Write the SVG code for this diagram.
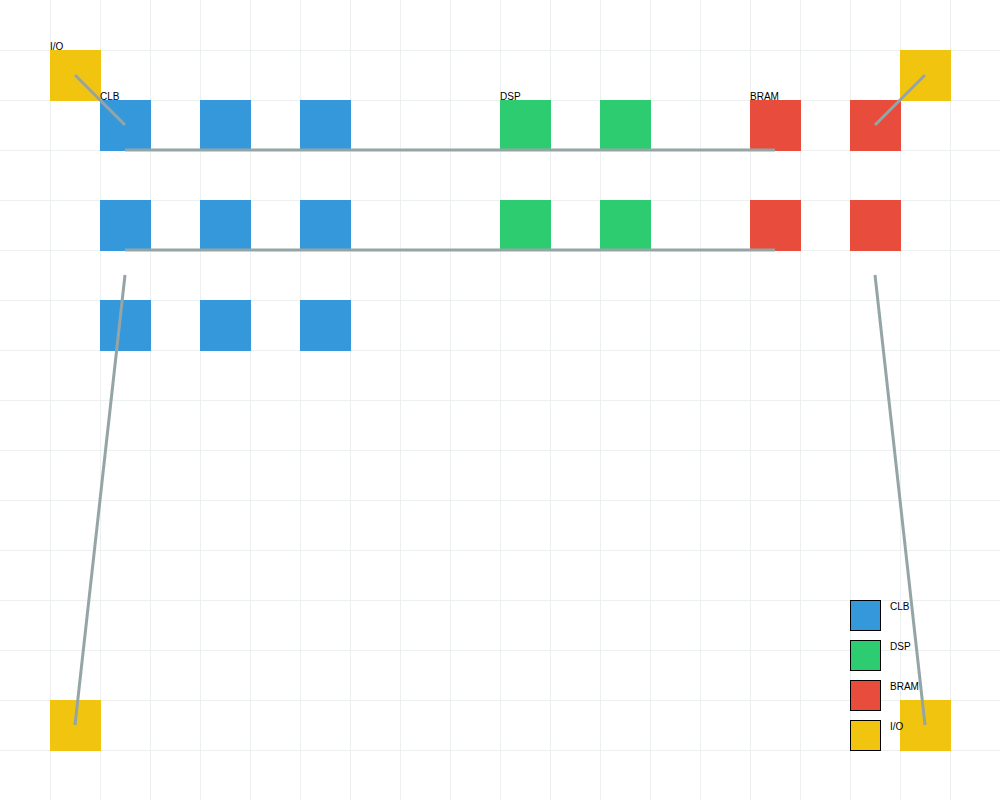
<svg xmlns="http://www.w3.org/2000/svg" width="1000" height="800" viewBox="0 0 1000 800">
<defs>
<style>
.grid line{stroke:#ecf0f1;stroke-width:1}
.clb{fill:#3498db}
.dsp{fill:#2ecc71}
.bram{fill:#e74c3c}
.io{fill:#f1c40f}
.blk{width:51px;height:51px}
.conn line{stroke:#95a5a6;stroke-width:3}
text{font-family:"Liberation Sans",Arial,sans-serif;font-size:10px;fill:#000}
.leg rect{stroke:#000;stroke-width:1}
</style>
</defs>
<rect width="1000" height="800" fill="#fff"/>
<g class="grid">
<line x1="50.5" y1="0" x2="50.5" y2="800"/><line x1="100.5" y1="0" x2="100.5" y2="800"/><line x1="150.5" y1="0" x2="150.5" y2="800"/><line x1="200.5" y1="0" x2="200.5" y2="800"/><line x1="250.5" y1="0" x2="250.5" y2="800"/><line x1="300.5" y1="0" x2="300.5" y2="800"/><line x1="350.5" y1="0" x2="350.5" y2="800"/><line x1="400.5" y1="0" x2="400.5" y2="800"/><line x1="450.5" y1="0" x2="450.5" y2="800"/><line x1="500.5" y1="0" x2="500.5" y2="800"/><line x1="550.5" y1="0" x2="550.5" y2="800"/><line x1="600.5" y1="0" x2="600.5" y2="800"/><line x1="650.5" y1="0" x2="650.5" y2="800"/><line x1="700.5" y1="0" x2="700.5" y2="800"/><line x1="750.5" y1="0" x2="750.5" y2="800"/><line x1="800.5" y1="0" x2="800.5" y2="800"/><line x1="850.5" y1="0" x2="850.5" y2="800"/><line x1="900.5" y1="0" x2="900.5" y2="800"/><line x1="950.5" y1="0" x2="950.5" y2="800"/>
<line x1="0" y1="50.5" x2="1000" y2="50.5"/><line x1="0" y1="100.5" x2="1000" y2="100.5"/><line x1="0" y1="150.5" x2="1000" y2="150.5"/><line x1="0" y1="200.5" x2="1000" y2="200.5"/><line x1="0" y1="250.5" x2="1000" y2="250.5"/><line x1="0" y1="300.5" x2="1000" y2="300.5"/><line x1="0" y1="350.5" x2="1000" y2="350.5"/><line x1="0" y1="400.5" x2="1000" y2="400.5"/><line x1="0" y1="450.5" x2="1000" y2="450.5"/><line x1="0" y1="500.5" x2="1000" y2="500.5"/><line x1="0" y1="550.5" x2="1000" y2="550.5"/><line x1="0" y1="600.5" x2="1000" y2="600.5"/><line x1="0" y1="650.5" x2="1000" y2="650.5"/><line x1="0" y1="700.5" x2="1000" y2="700.5"/><line x1="0" y1="750.5" x2="1000" y2="750.5"/>
</g>
<g id="io-tl"><rect class="io" x="50" y="50" width="51" height="51"/></g>
<g id="io-tr"><rect class="io" x="900" y="50" width="51" height="51"/></g>
<g id="io-bl"><rect class="io" x="50" y="700" width="51" height="51"/></g>
<g id="io-br"><rect class="io" x="900" y="700" width="51" height="51"/></g>
<g id="clb-1-1"><rect class="clb" x="100" y="100" width="51" height="51"/></g>
<g id="clb-1-2"><rect class="clb" x="200" y="100" width="51" height="51"/></g>
<g id="clb-1-3"><rect class="clb" x="300" y="100" width="51" height="51"/></g>
<g id="clb-2-1"><rect class="clb" x="100" y="200" width="51" height="51"/></g>
<g id="clb-2-2"><rect class="clb" x="200" y="200" width="51" height="51"/></g>
<g id="clb-2-3"><rect class="clb" x="300" y="200" width="51" height="51"/></g>
<g id="clb-3-1"><rect class="clb" x="100" y="300" width="51" height="51"/></g>
<g id="clb-3-2"><rect class="clb" x="200" y="300" width="51" height="51"/></g>
<g id="clb-3-3"><rect class="clb" x="300" y="300" width="51" height="51"/></g>
<g id="dsp-1-1"><rect class="dsp" x="500" y="100" width="51" height="51"/></g>
<g id="dsp-1-2"><rect class="dsp" x="600" y="100" width="51" height="51"/></g>
<g id="dsp-2-1"><rect class="dsp" x="500" y="200" width="51" height="51"/></g>
<g id="dsp-2-2"><rect class="dsp" x="600" y="200" width="51" height="51"/></g>
<g id="bram-1-1"><rect class="bram" x="750" y="100" width="51" height="51"/></g>
<g id="bram-1-2"><rect class="bram" x="850" y="100" width="51" height="51"/></g>
<g id="bram-2-1"><rect class="bram" x="750" y="200" width="51" height="51"/></g>
<g id="bram-2-2"><rect class="bram" x="850" y="200" width="51" height="51"/></g>
<g id="connectors" class="conn">
<line x1="75" y1="75" x2="125" y2="125"/>
<line x1="925" y1="75" x2="875" y2="125"/>
<line x1="125" y1="150" x2="775" y2="150"/>
<line x1="125" y1="250" x2="775" y2="250"/>
<line x1="125" y1="275" x2="75" y2="725"/>
<line x1="875" y1="275" x2="925" y2="725"/>
</g>
<g id="labels">
<text x="50" y="50">I/O</text>
<text x="100" y="100">CLB</text>
<text x="500" y="100">DSP</text>
<text x="750" y="100">BRAM</text>
</g>
<g id="legend" class="leg">
<rect class="clb" x="850.5" y="600.5" width="30" height="30"/>
<text x="890" y="610">CLB</text>
<rect class="dsp" x="850.5" y="640.5" width="30" height="30"/>
<text x="890" y="650">DSP</text>
<rect class="bram" x="850.5" y="680.5" width="30" height="30"/>
<text x="890" y="690">BRAM</text>
<rect class="io" x="850.5" y="720.5" width="30" height="30"/>
<text x="890" y="730">I/O</text>
</g>
</svg>
